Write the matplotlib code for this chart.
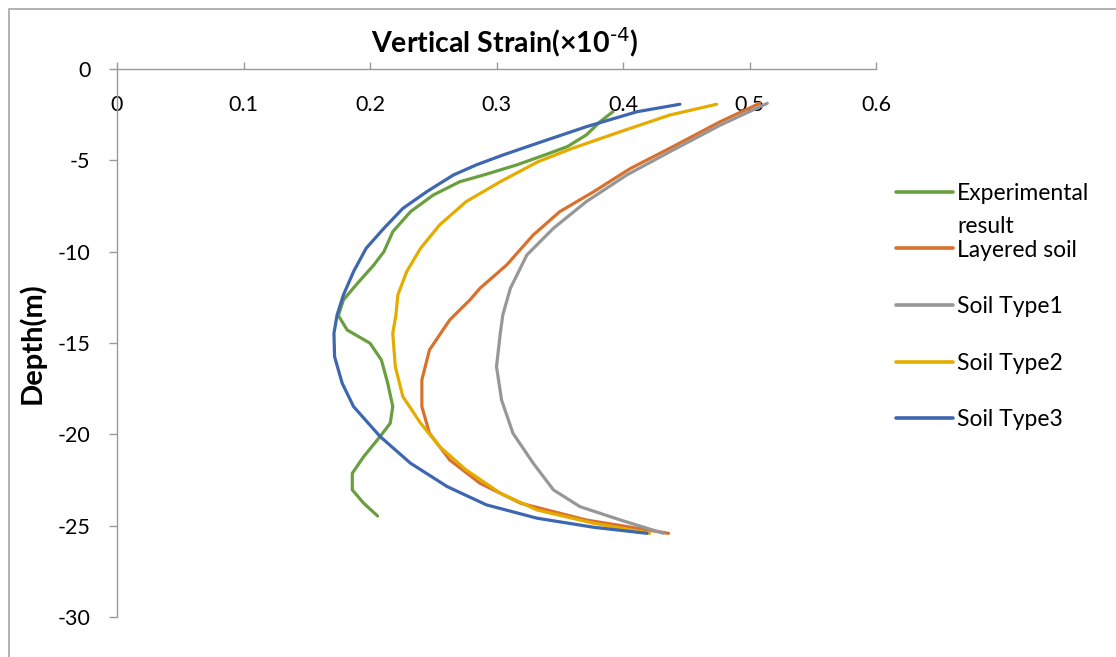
import matplotlib
matplotlib.use("Agg")
import matplotlib.pyplot as plt
from matplotlib.patches import Rectangle

plt.rcParams['font.family'] = ['Lato', 'DejaVu Sans']
plt.rcParams['mathtext.default'] = 'regular'

# ---- data ----
exp_depth = [-2.34, -2.88, -3.61, -4.25, -4.71, -5.25, -5.80, -6.17, -6.90, -7.81, -8.91, -10.0,
             -10.73, -11.82, -12.64, -13.5, -14.29, -15.01, -15.93, -17.20, -18.48, -19.39,
             -20.12, -21.22, -22.13, -23.04, -23.77, -24.47]
exp_strain = [0.392, 0.382, 0.371, 0.356, 0.338, 0.316, 0.290, 0.271, 0.250, 0.232, 0.218, 0.211,
              0.203, 0.189, 0.179, 0.175, 0.182, 0.200, 0.209, 0.214, 0.218, 0.216,
              0.208, 0.195, 0.186, 0.186, 0.195, 0.206]

lay_depth = [-1.88, -2.88, -4.34, -5.44, -6.71, -7.81, -9.09, -10.73, -12.0, -12.64, -13.74,
             -15.38, -17.02, -18.48, -19.94, -21.40, -22.68, -23.77, -24.69, -25.42]
lay_strain = [0.508, 0.477, 0.437, 0.406, 0.377, 0.350, 0.329, 0.308, 0.287, 0.279, 0.263,
              0.247, 0.241, 0.241, 0.247, 0.263, 0.287, 0.319, 0.371, 0.436]

t1_depth = [-1.88, -3.07, -4.53, -5.80, -7.26, -8.72, -10.18, -12.0, -13.46, -14.47, -16.29,
            -18.12, -19.94, -21.58, -23.04, -23.96, -24.69, -25.42]
t1_strain = [0.514, 0.477, 0.437, 0.403, 0.371, 0.345, 0.324, 0.311, 0.305, 0.303, 0.300,
             0.304, 0.313, 0.329, 0.345, 0.366, 0.398, 0.432]

t2_depth = [-1.93, -2.52, -3.43, -4.34, -5.07, -6.17, -7.26, -8.54, -9.81, -11.09, -12.37,
            -13.46, -14.47, -16.29, -17.94, -19.39, -20.67, -21.95, -23.22, -24.14, -24.87, -25.42]
t2_strain = [0.474, 0.437, 0.398, 0.360, 0.333, 0.303, 0.276, 0.255, 0.240, 0.229, 0.222,
             0.2205, 0.218, 0.220, 0.226, 0.240, 0.255, 0.276, 0.303, 0.332, 0.377, 0.421]

t3_depth = [-1.93, -2.34, -3.16, -4.07, -4.71, -5.25, -5.80, -6.71, -7.63, -8.72, -9.81, -11.09,
            -12.37, -13.46, -14.47, -15.75, -17.20, -18.48, -20.12, -21.58, -22.86, -23.86,
            -24.59, -25.09, -25.42]
t3_strain = [0.445, 0.411, 0.371, 0.332, 0.305, 0.284, 0.266, 0.245, 0.226, 0.211, 0.197, 0.187,
             0.179, 0.174, 0.1715, 0.172, 0.178, 0.187, 0.208, 0.232, 0.261, 0.292,
             0.332, 0.377, 0.419]

series_labels = ["Experimental", "Layered soil", "Soil Type1", "Soil Type2", "Soil Type3"]
colors = ['#6A9F3F', '#D9712E', '#979797', '#E5AC00', '#3F66B0']
xticks = [0, 0.1, 0.2, 0.3, 0.4, 0.5, 0.6]
xtick_labels = ["0", "0.1", "0.2", "0.3", "0.4", "0.5", "0.6"]
yticks = [0, -5, -10, -15, -20, -25, -30]

# ---- figure ----
fig = plt.figure(figsize=(11.16, 6.57), dpi=100)
fig.patches.append(Rectangle((9 / 1116, -0.1), 1.2, 1.1 - 9 / 657,
                             transform=fig.transFigure, fill=False,
                             edgecolor='#A6A6A6', lw=1.2))
ax = fig.add_axes([117 / 1116, 1 - 617 / 657, (876 - 117) / 1116, (617 - 69) / 657])

data = [(exp_strain, exp_depth), (lay_strain, lay_depth), (t1_strain, t1_depth),
        (t2_strain, t2_depth), (t3_strain, t3_depth)]
handles = []
for (xs, ys), c, lab in zip(data, colors, series_labels):
    h, = ax.plot(xs, ys, color=c, lw=2.3, solid_capstyle='round',
                 solid_joinstyle='round', label=lab)
    handles.append(h)

ax.set_xlim(0, 0.6)
ax.set_ylim(-30, 0)
ax.set_xticks(xticks)
ax.set_xticklabels(xtick_labels)
ax.set_yticks(yticks)
ax.set_yticklabels([str(v) for v in yticks])

for s in ['right', 'bottom']:
    ax.spines[s].set_visible(False)
for s in ['top', 'left']:
    ax.spines[s].set_color('#9A9A9A')
    ax.spines[s].set_linewidth(1.0)

ax.tick_params(axis='x', top=True, bottom=False, labeltop=True, labelbottom=False,
               direction='out', length=5, width=1.0, color='#9A9A9A', labelsize=15.5, pad=-23.5)
for lab in ax.get_xticklabels():
    lab.set_va('top')
ax.tick_params(axis='y', left=True, direction='out', length=6, width=1.0, color='#9A9A9A',
               labelsize=15.5, pad=13)

ax.set_title(r"Vertical Strain(×10$^{\text{-4}}$)", fontsize=20.5, fontweight='bold',
             x=0.511, y=1.0, pad=12)
ax.set_ylabel("Depth(m)", fontsize=21, fontweight='bold', labelpad=9)

leg = ax.legend(handles=handles, labels=series_labels, loc='upper left',
                bbox_to_anchor=(1.027, 0.792), frameon=False, fontsize=16.5,
                borderaxespad=0, borderpad=0, handlelength=2.45, handletextpad=0.2,
                labelspacing=1.55)
for l in leg.get_lines():
    l.set_linewidth(2.6)
leg.set_zorder(5)
ann = ax.annotate("result", xy=(0, 0), xycoords=leg.get_texts()[0], xytext=(0, -24),
                  textcoords='offset points', va='bottom', ha='left', fontsize=16.5,
                  annotation_clip=False, zorder=6)

fig.savefig("out.png", dpi=100)
